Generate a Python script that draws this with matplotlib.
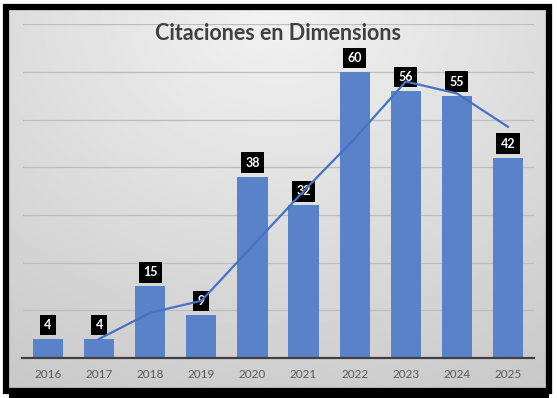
import numpy as np
import matplotlib.pyplot as plt
from matplotlib.patches import Rectangle

# data
years = ['2016', '2017', '2018', '2019', '2020', '2021', '2022', '2023', '2024', '2025']
citations = [4, 4, 15, 9, 38, 32, 60, 56, 55, 42]
# trend line (2-period moving average as drawn in the picture)
trend = [np.nan, 4, 9.5, 12, 23.5, 35, 46, 58, 55.5, 48.5]

W, H = 557, 398
fig = plt.figure(figsize=(W / 100, H / 100), dpi=100)
fig.patch.set_facecolor('white')

# gradient background panel
bg = fig.add_axes([0, 0, 1, 1], zorder=0)
bg.set_xlim(0, W)
bg.set_ylim(H, 0)
bg.axis('off')
yy, xx = np.mgrid[0:200, 0:280]
xn = (xx / 279.0 - 0.5) * 1.2
yn = yy / 199.0
r = np.sqrt(xn ** 2 + yn ** 2)
shade = 0.95 - 0.17 * np.clip(r, 0, 1.2) / 1.2
bg.imshow(shade, cmap='gray', vmin=0, vmax=1, extent=[8, 547, 389, 9],
          aspect='auto', interpolation='bilinear')
bg.add_patch(Rectangle((6, 7), 543, 384, fill=False, edgecolor='black', lw=4.5))
bg.add_patch(Rectangle((9, 389), 540, 9, facecolor='black', edgecolor='none'))

ax = fig.add_axes([22.5 / W, 40 / H, 511 / W, 333.7 / H], zorder=1)
ax.patch.set_alpha(0)
x = np.arange(len(years))
ax.bar(x, citations, width=0.59, color='#5a82c8', zorder=2)
ax.plot(x, trend, color='#4472c4', lw=1.6, zorder=4)

for xi, v in zip(x, citations):
    ax.annotate(str(v), (xi, v), xytext=(0, 14), textcoords='offset pixels',
                ha='center', va='center', color='white', fontsize=9,
                fontweight='bold', family='Lato',
                bbox=dict(boxstyle='square,pad=0.35', fc='black', ec='none'),
                zorder=3)

ax.set_xlim(-0.5, len(years) - 0.5)
ax.set_ylim(0, 70)
ax.set_yticks(np.arange(10, 71, 10))
ax.yaxis.grid(True, color='#bdbdbd', lw=0.9, zorder=0)
ax.tick_params(axis='y', length=0, labelleft=False)
ax.set_xticks(x)
ax.set_xticklabels(years, fontsize=8.5, color='#595959', family='Lato')
ax.tick_params(axis='x', length=0, pad=8)
for s in ['top', 'right', 'left']:
    ax.spines[s].set_visible(False)
ax.spines['bottom'].set_color('#404040')
ax.spines['bottom'].set_linewidth(1.6)

fig.text(278 / W, 1 - 34 / H, 'Citaciones en Dimensions', ha='center', va='center',
         fontsize=15.5, fontweight='bold', color='#404040', family='Lato')

fig.savefig('out.png', dpi=100)
